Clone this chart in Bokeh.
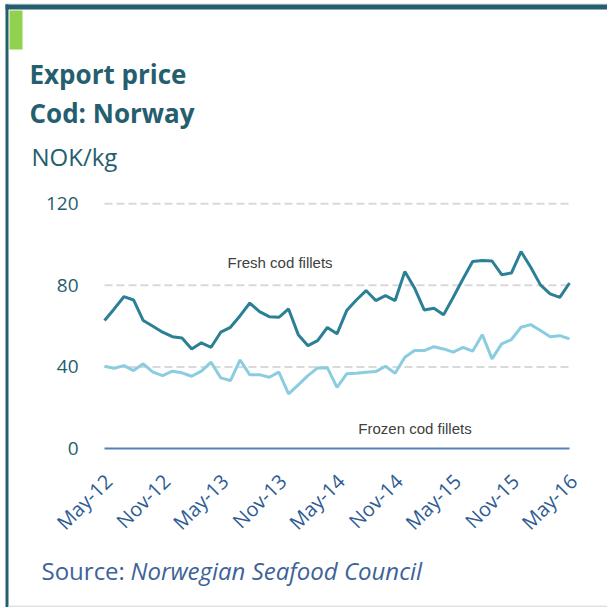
import math
from bokeh.plotting import figure
from bokeh.models import Range1d
from bokeh.core.properties import value
from bokeh.embed import file_html
from bokeh.resources import INLINE

# ---------------- data ----------------
months = []
for yr in range(12, 17):
    for m in ["Jan", "Feb", "Mar", "Apr", "May", "Jun", "Jul", "Aug", "Sep", "Oct", "Nov", "Dec"]:
        months.append(f"{m}-{yr}")
months = months[months.index("May-12"): months.index("May-16") + 1]  # 49 months

tick_labels = ["May-12", "Nov-12", "May-13", "Nov-13", "May-14",
               "Nov-14", "May-15", "Nov-15", "May-16"]

fresh = [62.7, 68.4, 74.4, 72.8, 62.7, 59.9, 57.0, 54.8, 54.2, 48.8,
         51.8, 49.6, 57.0, 59.4, 65.1, 71.3, 67.1, 64.6, 64.3, 68.4,
         55.8, 50.4, 52.9, 59.3, 56.2, 67.6, 72.8, 77.4, 72.5, 74.9,
         72.5, 86.7, 78.7, 67.9, 68.7, 65.5, 74.1, 83.1, 91.6, 92.1,
         91.9, 85.2, 86.0, 96.5, 88.8, 80.2, 75.8, 74.1, 81.1]

frozen = [40.3, 39.3, 40.6, 38.2, 41.5, 37.4, 35.7, 37.9, 37.1, 35.4,
          37.9, 42.3, 34.6, 33.3, 43.4, 36.1, 36.2, 34.9, 37.4, 26.8,
          31.2, 35.7, 39.5, 39.6, 30.0, 36.6, 36.9, 37.4, 37.7, 40.3,
          36.9, 44.7, 48.0, 48.0, 49.9, 48.8, 47.2, 49.6, 47.7, 55.8,
          43.9, 51.3, 53.4, 59.4, 60.7, 57.8, 54.8, 55.3, 53.7]

y_ticks = [0, 40, 80, 120]

# ---------------- styles ----------------
TEAL = "#255e6e"
FRESH_C = "#2c8096"
FROZEN_C = "#8bcde0"
XLAB_C = "#2f5c94"
SRC_C = "#3d6399"
OPEN = value("Open Sans")
ARIAL = value("Liberation Sans")

W, H = 607, 607
# plot area in canvas pixels
PL, PR, PB = 104, 569, 448          # left, right, zero-line
PX_PER_UNIT = 253 / 124             # pixels per NOK/kg

x = list(range(len(months)))
px_per_month = (PR - PL) / (x[-1] - x[0])
x_range = Range1d(x[0] - PL / px_per_month, x[-1] + (W - PR) / px_per_month)
y_range = Range1d(-(H - PB) / PX_PER_UNIT, PB / PX_PER_UNIT)

p = figure(width=W, height=H, x_range=x_range, y_range=y_range,
           x_axis_location=None, y_axis_location=None, min_border=0,
           toolbar_location=None, output_backend="svg")
p.grid.visible = False
p.outline_line_color = None
# pixel-space ranges for frame decorations and titles
p.extra_x_ranges = {"px": Range1d(0, W)}
p.extra_y_ranges = {"px": Range1d(H, 0)}
PXK = dict(x_range_name="px", y_range_name="px")

# ---- decorations (pixel space) ----
p.quad(left=[5], right=[W], top=[3], bottom=[4], color="#d3dde1", line_width=0, **PXK)
p.quad(left=[5], right=[W], top=[4], bottom=[9], color=TEAL, line_width=0, **PXK)
p.quad(left=[5], right=[8], top=[4], bottom=[H], color=TEAL, line_width=0, **PXK)
p.quad(left=[9], right=[22], top=[10], bottom=[49], color="#92d050", line_width=0, **PXK)
p.quad(left=[8], right=[W], top=[605], bottom=[607], color="#dde3e6", line_width=0, **PXK)

# ---- header texts ----
p.text(x=[29], y=[73.5], text=["Export price"], text_font=OPEN, text_font_style="bold",
       text_font_size="26px", text_color=TEAL, text_baseline="middle", **PXK)
p.text(x=[29], y=[112.5], text=["Cod: Norway"], text_font=OPEN, text_font_style="bold",
       text_font_size="26px", text_color=TEAL, text_baseline="middle", **PXK)
p.text(x=[31], y=[155.5], text=["NOK/kg"], text_font=OPEN,
       text_font_size="24px", text_color=TEAL, text_baseline="middle", **PXK)

# ---- gridlines & zero line (data space) ----
p.segment(x0=[x[0]] * 3, x1=[x[-1]] * 3, y0=y_ticks[1:], y1=y_ticks[1:],
          line_color="#d9d9d9", line_width=2, line_dash="8 4")
p.segment(x0=[x[0]], x1=[x[-1]], y0=[y_ticks[0]], y1=[y_ticks[0]],
          line_color="#4f81bd", line_width=2)

# ---- y tick labels ----
p.text(x=[x[0]] * len(y_ticks), y=y_ticks, text=[str(t) for t in y_ticks],
       x_offset=-26, text_align="right", text_baseline="middle",
       text_font=OPEN, text_font_size="19px", text_color=TEAL)

# ---- x tick labels ----
tick_pos = [months.index(t) for t in tick_labels]
p.text(x=tick_pos, y=[y_ticks[0]] * len(tick_pos), text=tick_labels,
       angle=math.pi / 4, x_offset=4, y_offset=29,
       text_align="right", text_baseline="middle",
       text_font=OPEN, text_font_size="20px", text_color=XLAB_C)

# ---- series ----
p.line(x, frozen, line_color=FROZEN_C, line_width=3)
p.line(x, fresh, line_color=FRESH_C, line_width=3)

p.text(x=[12.7], y=[91.0], text=["Fresh cod fillets"], text_font=ARIAL,
       text_font_size="15px", text_color="#404040", text_baseline="middle")
p.text(x=[26.2], y=[9.9], text=["Frozen cod fillets"], text_font=ARIAL,
       text_font_size="15px", text_color="#404040", text_baseline="middle")

# ---- footer ----
p.text(x=[41], y=[569.5], text=["Source:"], text_font=OPEN, text_font_size="24px",
       text_color=SRC_C, text_baseline="middle", **PXK)
p.text(x=[130], y=[569.5], text=["Norwegian Seafood Council"], text_font=OPEN,
       text_font_style="italic", text_font_size="24px", text_color=SRC_C,
       text_baseline="middle", **PXK)

open("out.html", "w").write(file_html(p, INLINE))
